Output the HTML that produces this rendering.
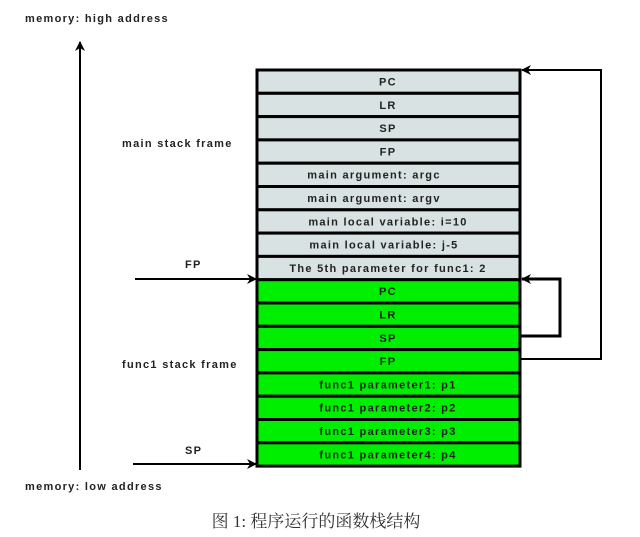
<!DOCTYPE html>
<html><head><meta charset="utf-8">
<style>
html,body{margin:0;padding:0;background:#fff;}
svg{display:block;}
.t{font-family:"Liberation Sans",sans-serif;font-size:11px;font-weight:bold;letter-spacing:1.3px;fill:#222;}
.c{text-anchor:middle;}
</style></head><body>
<svg width="640" height="537" viewBox="0 0 640 537" xmlns="http://www.w3.org/2000/svg">
<defs>
<marker id="ah" markerWidth="10" markerHeight="10" refX="9" refY="5" orient="auto" markerUnits="userSpaceOnUse">
<path d="M0,0 L10,5 L0,10 L3,5 Z" fill="#000"/>
</marker>
</defs>
<text class="t" x="25" y="22">memory: high address</text>
<line x1="80" y1="470" x2="80" y2="42" stroke="#000" stroke-width="2" marker-end="url(#ah)"/>
<text class="t" x="122" y="147">main stack frame</text>
<text class="t" x="122" y="368">func1 stack frame</text>
<text class="t" x="25" y="490">memory: low address</text>
<text class="t" x="185" y="268">FP</text>
<line x1="135" y1="279" x2="256" y2="279" stroke="#000" stroke-width="2" marker-end="url(#ah)"/>
<text class="t" x="185" y="454">SP</text>
<line x1="133" y1="464" x2="256" y2="464" stroke="#000" stroke-width="2" marker-end="url(#ah)"/>
<g stroke="#000" stroke-width="3">
<rect x="257" y="70" width="263" height="23.3" fill="#d8e2e2"/>
<rect x="257" y="93.3" width="263" height="23.3" fill="#d8e2e2"/>
<rect x="257" y="116.6" width="263" height="23.3" fill="#d8e2e2"/>
<rect x="257" y="139.9" width="263" height="23.3" fill="#d8e2e2"/>
<rect x="257" y="163.2" width="263" height="23.3" fill="#d8e2e2"/>
<rect x="257" y="186.5" width="263" height="23.3" fill="#d8e2e2"/>
<rect x="257" y="209.8" width="263" height="23.3" fill="#d8e2e2"/>
<rect x="257" y="233.1" width="263" height="23.3" fill="#d8e2e2"/>
<rect x="257" y="256.4" width="263" height="23.3" fill="#d8e2e2"/>
<rect x="257" y="279.7" width="263" height="23.3" fill="#00ee00"/>
<rect x="257" y="303" width="263" height="23.3" fill="#00ee00"/>
<rect x="257" y="326.3" width="263" height="23.3" fill="#00ee00"/>
<rect x="257" y="349.6" width="263" height="23.3" fill="#00ee00"/>
<rect x="257" y="372.9" width="263" height="23.3" fill="#00ee00"/>
<rect x="257" y="396.2" width="263" height="23.3" fill="#00ee00"/>
<rect x="257" y="419.5" width="263" height="23.3" fill="#00ee00"/>
<rect x="257" y="442.8" width="263" height="23.3" fill="#00ee00"/>
</g>
<g class="t c">
<text x="388" y="85.5">PC</text>
<text x="388" y="108.8">LR</text>
<text x="388" y="132.1">SP</text>
<text x="388" y="155.4">FP</text>
<text x="374" y="178.7">main argument:  argc</text>
<text x="374" y="202">main argument:  argv</text>
<text x="388" y="225.3">main local variable:  i=10</text>
<text x="384" y="248.6">main local variable:  j-5</text>
<text x="388" y="271.9">The 5th parameter for func1: 2</text>
<text x="388" y="295.2">PC</text>
<text x="388" y="318.5">LR</text>
<text x="388" y="341.8">SP</text>
<text x="388" y="365.1">FP</text>
<text x="388" y="388.4">func1 parameter1: p1</text>
<text x="388" y="411.7">func1 parameter2: p2</text>
<text x="388" y="435">func1 parameter3: p3</text>
<text x="388" y="458.3">func1 parameter4: p4</text>
</g>
<polyline points="521,359 601,359 601,70 522,70" fill="none" stroke="#000" stroke-width="2" marker-end="url(#ah)"/>
<polyline points="521,336 560,336 560,279 522,279" fill="none" stroke="#000" stroke-width="3" marker-end="url(#ah)"/>
<text x="316" y="527" text-anchor="middle" style="font-family:'Liberation Serif','Noto Serif CJK SC',serif;font-size:17px;fill:#333;">图 1: 程序运行的函数栈结构</text>
</svg>
</body></html>
